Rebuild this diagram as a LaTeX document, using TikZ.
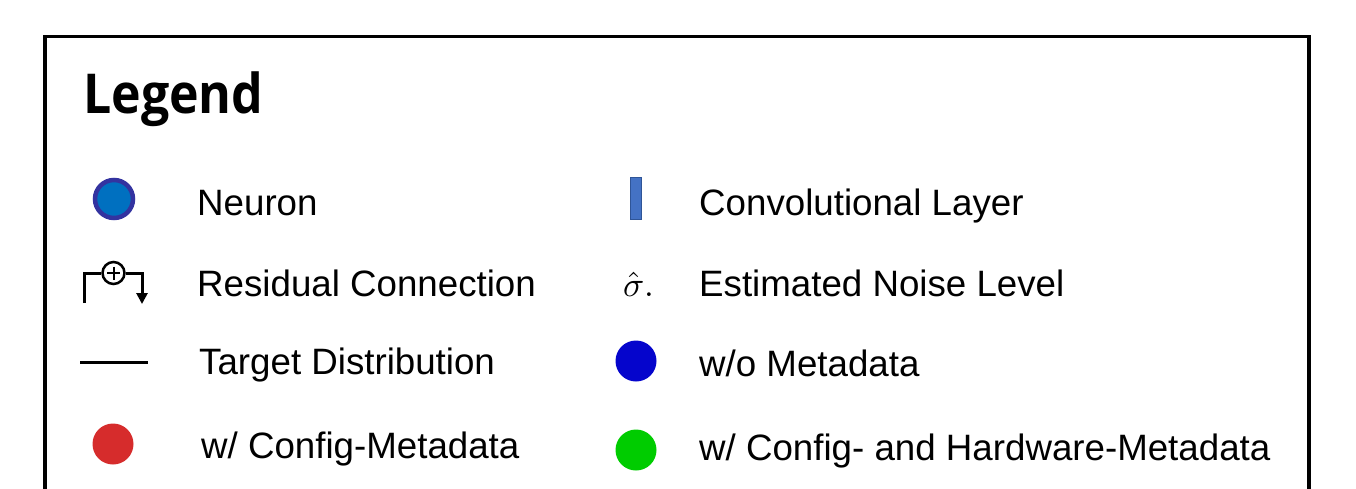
\documentclass[tikz,border=0pt]{standalone}
\usepackage{fontspec}
\setmainfont{Liberation Sans}
\newfontfamily\titlefont{Open Sans}
\usetikzlibrary{arrows.meta,calc}
\definecolor{neuronfill}{HTML}{0070C0}
\definecolor{neuronring}{HTML}{3333A0}
\definecolor{convfill}{HTML}{4472C4}
\definecolor{convline}{HTML}{2F5597}
\definecolor{dotred}{HTML}{D62C2C}
\definecolor{dotblue}{HTML}{0505CC}
\definecolor{dotgreen}{HTML}{00CC00}
\tikzset{
  x=1pt, y=-1pt,
  lbl/.style={anchor=base west, inner sep=0pt, font=\fontsize{36.7}{40}\selectfont},
  dot/.style={circle, inner sep=0pt, minimum size=41pt},
  wire/.style={line width=3pt, black},
}
\begin{document}
\begin{tikzpicture}
\useasboundingbox (0,0) rectangle (1356,489);
\clip (0,0) rectangle (1356,489);
% frame
\draw[line width=3.6pt] (45,520) -- (45,36.5) -- (1309,36.5) -- (1309,520);
% title
\node[anchor=base west, inner sep=0pt, font=\titlefont\bfseries\fontsize{55}{60}\selectfont] (title) at (83,114) {\scalebox{0.91}[1]{Legend}};
% neuron
\node[dot, fill=neuronfill, draw=neuronring, line width=4.5pt, minimum size=38pt] (neuron) at (114,199) {};
\node[lbl] (neuronl) at (197,215) {Neuron};
% conv layer
\node[rectangle, fill=convfill, draw=convline, line width=1.5pt, minimum width=11pt, minimum height=42pt, inner sep=0pt] (conv) at (636,198.5) {};
\node[lbl] (convl) at (699,215) {Convolutional Layer};
% residual
\coordinate (rs) at (84,303);
\coordinate (rc1) at (84,273);
\node[circle, draw, line width=2.5pt, minimum size=22pt, inner sep=0pt] (plus) at (113.5,273) {};
\draw[line width=2pt] ($(plus.center)+(-6.5,0)$) -- ($(plus.center)+(6.5,0)$);
\draw[line width=2pt] ($(plus.center)+(0,-6.5)$) -- ($(plus.center)+(0,6.5)$);
\coordinate (rc2) at (142,273);
\coordinate (re) at (142,304);
\draw[wire] (rs) -- (rc1) -- (plus.west);
\draw[wire, -{Triangle[length=11pt,width=11pt]}] (plus.east) -- (rc2) -- (re);
\node[lbl] (resl) at (197,296) {Residual Connection};
% sigma
\node[inner sep=0pt] (sigma) at (638.5,284) {\scalebox{3.5}{$\hat{\sigma}.$}};
\node[lbl] (sigmal) at (699,296) {Estimated Noise Level};
% target distribution
\coordinate (t1) at (80,362);
\coordinate (t2) at (148,362);
\draw[wire] (t1) -- (t2);
\node[lbl] (targetl) at (199,374) {Target Distribution};
% w/o metadata
\node[dot, fill=dotblue] (blue) at (636,361) {};
\node[lbl] (bluel) at (699,376) {w/o Metadata};
% config
\node[dot, fill=dotred] (red) at (113,444) {};
\node[lbl] (redl) at (201,458) {w/ Config-Metadata};
% config + hardware
\node[dot, fill=dotgreen] (green) at (636,450) {};
\node[lbl] (greenl) at (699,460) {w/ Config- and Hardware-Metadata};
\end{tikzpicture}
\end{document}
